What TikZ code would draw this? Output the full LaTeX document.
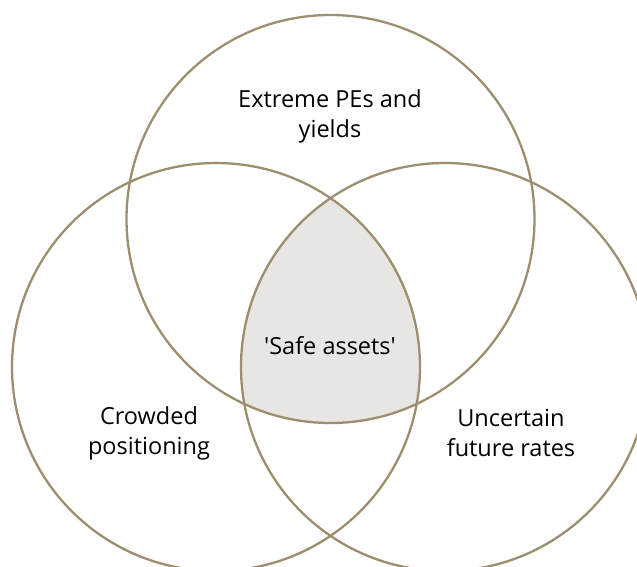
\documentclass[tikz,border=0pt]{standalone}
\usepackage{fontspec}
\setmainfont{Open Sans}
\definecolor{ringcol}{HTML}{9C8E6E}
\definecolor{corecol}{HTML}{E8E6E2}
\tikzstyle{ring} = [draw=ringcol, line width=2.3pt, circle, minimum size=408pt, inner sep=0pt]
\tikzstyle{venntext} = [align=center, font=\fontsize{23.5}{30}\selectfont, text=black]

\begin{document}
\begin{tikzpicture}[x=1pt, y=-1pt]
        \clip (0,0) rectangle (637,567);
        \coordinate (ct) at (330.5,219);
        \coordinate (cl) at (216,367);
        \coordinate (cr) at (445,367);

        % shaded middle part
        \begin{scope}
            \clip (ct) circle (204);
            \clip (cl) circle (204);
            \fill [corecol] (cr) circle (204);
        \end{scope}

        \node [ring] (top) at (ct) {};
        \node [ring] (left) at (cl) {};
        \node [ring] (right) at (cr) {};

        \node [venntext] (pe) at (330,116) {Extreme PEs and\\yields};
        \node [venntext] (safe) at (330,346) {\textquotesingle Safe assets\textquotesingle};
        \node [venntext] (crowd) at (149,433) {Crowded\\positioning};
        \node [venntext] (rates) at (511,433) {Uncertain\\future rates};
    \end{tikzpicture}
\end{document}
